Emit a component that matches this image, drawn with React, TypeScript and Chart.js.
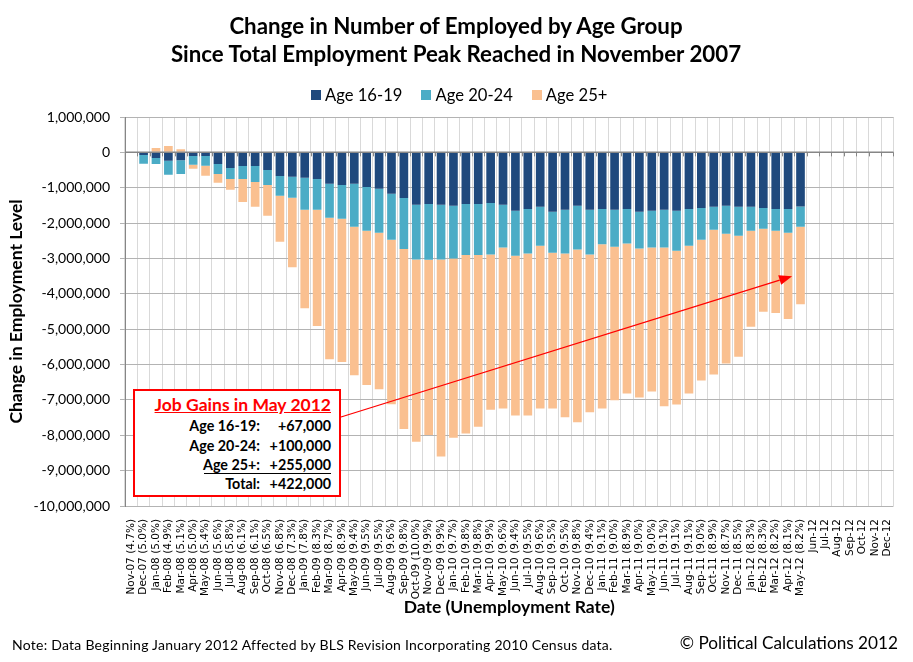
import React, { useEffect, useRef } from "react";
import { Chart, registerables } from "chart.js";

Chart.register(...registerables);

const months = [
  "Nov-07 (4.7%)", "Dec-07 (5.0%)", "Jan-08 (5.0%)", "Feb-08 (4.9%)", "Mar-08 (5.1%)", "Apr-08 (5.0%)",
  "May-08 (5.4%)", "Jun-08 (5.6%)", "Jul-08 (5.8%)", "Aug-08 (6.1%)", "Sep-08 (6.1%)", "Oct-08 (6.5%)",
  "Nov-08 (6.8%)", "Dec-08 (7.3%)", "Jan-09 (7.8%)", "Feb-09 (8.3%)", "Mar-09 (8.7%)", "Apr-09 (8.9%)",
  "May-09 (9.4%)", "Jun-09 (9.5%)", "Jul-09 (9.5%)", "Aug-09 (9.6%)", "Sep-09 (9.8%)", "Oct-09 (10.0%)",
  "Nov-09 (9.9%)", "Dec-09 (9.9%)", "Jan-10 (9.7%)", "Feb-10 (9.8%)", "Mar-10 (9.8%)", "Apr-10 (9.9%)",
  "May-10 (9.6%)", "Jun-10 (9.4%)", "Jul-10 (9.5%)", "Aug-10 (9.6%)", "Sep-10 (9.5%)", "Oct-10 (9.5%)",
  "Nov-10 (9.8%)", "Dec-10 (9.4%)", "Jan-11 (9.1%)", "Feb-11 (9.0%)", "Mar-11 (8.9%)", "Apr-11 (9.0%)",
  "May-11 (9.0%)", "Jun-11 (9.1%)", "Jul-11 (9.1%)", "Aug-11 (9.1%)", "Sep-11 (9.0%)", "Oct-11 (8.9%)",
  "Nov-11 (8.7%)", "Dec-11 (8.5%)", "Jan-12 (8.3%)", "Feb-12 (8.3%)", "Mar-12 (8.2%)", "Apr-12 (8.1%)",
  "May-12 (8.2%)", "Jun-12", "Jul-12", "Aug-12", "Sep-12", "Oct-12", "Nov-12", "Dec-12",
];

const age1619 = [
  0, -75000, -160000, -240000, -220000, -100000,
  -100000, -330000, -440000, -385000, -385000, -500000,
  -670000, -690000, -720000, -750000, -890000, -920000,
  -890000, -980000, -1030000, -1170000, -1290000, -1480000,
  -1460000, -1480000, -1510000, -1460000, -1460000, -1430000,
  -1480000, -1650000, -1600000, -1540000, -1680000, -1620000,
  -1510000, -1620000, -1600000, -1620000, -1600000, -1680000,
  -1650000, -1620000, -1650000, -1600000, -1570000, -1540000,
  -1510000, -1540000, -1540000, -1570000, -1600000, -1600000,
  -1533000, null, null, null, null, null, null, null,
];

const age2024 = [
  0, -250000, -170000, -390000, -390000, -250000,
  -280000, -280000, -310000, -370000, -450000, -420000,
  -560000, -590000, -900000, -870000, -960000, -960000,
  -1210000, -1240000, -1240000, -1300000, -1440000, -1550000,
  -1580000, -1550000, -1490000, -1440000, -1440000, -1460000,
  -1210000, -1270000, -1260000, -1100000, -1160000, -1240000,
  -1240000, -1270000, -1000000, -1050000, -980000, -1040000,
  -1040000, -1070000, -1130000, -1040000, -900000, -650000,
  -790000, -820000, -680000, -590000, -620000, -670000,
  -570000, null, null, null, null, null, null, null,
];

const age25plus = [
  0, 0, 120000, 180000, 90000, -110000,
  -280000, -250000, -310000, -650000, -700000, -870000,
  -1300000, -1970000, -2790000, -3290000, -4000000, -4050000,
  -4200000, -4360000, -4430000, -4650000, -5090000, -5150000,
  -4950000, -5570000, -5070000, -5050000, -4860000, -4390000,
  -4550000, -4520000, -4580000, -4600000, -4400000, -4630000,
  -4880000, -4460000, -4640000, -4340000, -4240000, -4210000,
  -4070000, -4490000, -4350000, -4180000, -3980000, -4090000,
  -3670000, -3420000, -2710000, -2350000, -2320000, -2440000,
  -2190000, null, null, null, null, null, null, null,
];

const seriesNames = ["Age 16-19", "Age 20-24", "Age 25+"];
const seriesColors = ["#1F497D", "#4BACC6", "#FAC090"];

const yMin = -10000000;
const yMax = 1000000;
const yStep = 1000000;

const gainRows = [
  ["Age 16-19:", "+67,000"],
  ["Age 20-24:", "+100,000"],
  ["Age 25+:", "+255,000"],
  ["Total:", "+422,000"],
];

const arrowTargetIndex = 53;
const arrowTargetValue = -3500000;

const FONT = "Lato, 'Open Sans', sans-serif";

export default function App() {
  const ref = useRef<HTMLCanvasElement>(null);

  useEffect(() => {
    const canvas = ref.current;
    if (!canvas) return;

    const zeroAxis = {
      id: "zeroAxis",
      afterDatasetsDraw(chart: any) {
        const { ctx, chartArea, scales } = chart;
        const x = scales.x;
        const y = scales.y;
        const y0 = y.getPixelForValue(0);
        const half = (x.getPixelForValue(1) - x.getPixelForValue(0)) / 2;
        ctx.save();
        ctx.strokeStyle = "#868686";
        ctx.lineWidth = 1.5;
        ctx.beginPath();
        ctx.moveTo(chartArea.left, y0);
        ctx.lineTo(chartArea.right, y0);
        ctx.stroke();
        ctx.lineWidth = 1;
        ctx.beginPath();
        for (let i = 0; i <= months.length; i++) {
          const px = Math.round(x.getPixelForValue(i) - half) + 0.5;
          ctx.moveTo(px, y0);
          ctx.lineTo(px, y0 + 4);
        }
        ctx.stroke();
        ctx.restore();
      },
      afterDraw(chart: any) {
        const { ctx, scales } = chart;
        const x = scales.x;
        const y = scales.y;
        const tx = x.getPixelForValue(arrowTargetIndex) + 4;
        const ty = y.getPixelForValue(arrowTargetValue);
        const sx = 341;
        const sy = 417;
        const ang = Math.atan2(ty - sy, tx - sx);
        const headLen = 13;
        const headW = 5;
        const bx = tx - headLen * Math.cos(ang);
        const by = ty - headLen * Math.sin(ang);
        ctx.save();
        ctx.strokeStyle = "#FF0000";
        ctx.fillStyle = "#FF0000";
        ctx.lineWidth = 1.3;
        ctx.beginPath();
        ctx.moveTo(sx, sy);
        ctx.lineTo(bx, by);
        ctx.stroke();
        ctx.beginPath();
        ctx.moveTo(tx, ty);
        ctx.lineTo(bx + headW * Math.sin(ang), by - headW * Math.cos(ang));
        ctx.lineTo(bx - headW * Math.sin(ang), by + headW * Math.cos(ang));
        ctx.closePath();
        ctx.fill();
        ctx.restore();
      },
    };

    const chart = new Chart(canvas, {
      type: "bar",
      data: {
        labels: months,
        datasets: [
          { label: seriesNames[0], data: age1619, backgroundColor: seriesColors[0] },
          { label: seriesNames[1], data: age2024, backgroundColor: seriesColors[1] },
          { label: seriesNames[2], data: age25plus, backgroundColor: seriesColors[2] },
        ],
      },
      options: {
        animation: false,
        responsive: true,
        maintainAspectRatio: false,
        datasets: { bar: { barPercentage: 0.7, categoryPercentage: 1 } },
        layout: { autoPadding: false, padding: { top: 117, right: 17, bottom: 0, left: 0 } },
        plugins: {
          legend: { display: false },
          title: { display: false },
          tooltip: { enabled: false },
        },
        scales: {
          x: {
            stacked: true,
            afterFit: (s: any) => {
              s.height = 156;
            },
            grid: { offset: true, color: "#d9d9d9", drawTicks: false },
            border: { display: false },
            ticks: {
              autoSkip: false,
              maxRotation: 90,
              minRotation: 90,
              padding: 13,
              color: "#000",
              font: { family: "'DejaVu Sans', sans-serif", size: 10.5 },
            },
            title: {
              display: true,
              text: "Date (Unemployment Rate)",
              color: "#000",
              font: { family: FONT, size: 17.5, weight: "bold" },
              padding: { top: 0, bottom: 44.5 },
            },
          },
          y: {
            stacked: true,
            min: yMin,
            max: yMax,
            afterFit: (s: any) => {
              s.width = 125;
            },
            ticks: {
              stepSize: yStep,
              callback: (v: any) => Number(v).toLocaleString("en-US"),
              color: "#000",
              font: { family: FONT, size: 14 },
              padding: 10,
            },
            grid: { color: "#b3b3b3", tickLength: 5 },
            border: { color: "#868686" },
            title: {
              display: true,
              text: "Change in Employment Level",
              color: "#000",
              font: { family: FONT, size: 17.5, weight: "bold" },
              padding: { top: 5.5, bottom: 0 },
            },
          },
        },
      },
      plugins: [zeroAxis],
    });

    return () => chart.destroy();
  }, []);

  const abs = (style: React.CSSProperties): React.CSSProperties => ({
    position: "absolute",
    whiteSpace: "nowrap",
    fontFamily: FONT,
    color: "#000",
    ...style,
  });

  const rowBaselines = [416, 436, 455, 474];

  return (
    <div
      style={{
        position: "fixed",
        left: 0,
        top: 0,
        width: 913,
        height: 662,
        background: "#fff",
        overflow: "hidden",
      }}
    >
      <canvas ref={ref} style={{ position: "absolute", left: 0, top: 0, width: 913, height: 662 }} />

      <div
        style={abs({
          left: 0,
          top: 12,
          width: 912,
          textAlign: "center",
          fontWeight: "bold",
          fontSize: 22.3,
          lineHeight: "28px",
        })}
      >
        <div>Change in Number of Employed by Age Group</div>
        <div>Since Total Employment Peak Reached in November 2007</div>
      </div>

      <div
        style={abs({
          left: 311,
          top: 85,
          height: 20,
          display: "flex",
          alignItems: "center",
          fontSize: 16.6,
        })}
      >
        {seriesNames.map((n, i) => (
          <div key={n} style={{ display: "flex", alignItems: "center", marginRight: 19 }}>
            <span style={{ width: 10, height: 10, background: seriesColors[i], marginRight: 4, display: "inline-block" }} />
            <span>{n}</span>
          </div>
        ))}
      </div>

      <div
        style={{
          position: "absolute",
          left: 133,
          top: 389,
          width: 208,
          height: 108,
          boxSizing: "border-box",
          border: "2px solid #FF0000",
          background: "#fff",
        }}
      />
      <div
        style={abs({
          right: 913 - 331,
          top: 395,
          fontSize: 17.5,
          lineHeight: "20px",
          fontWeight: "bold",
          color: "#FF0000",
          textDecoration: "underline",
        })}
      >
        Job Gains in May 2012
      </div>
      {gainRows.map((r, i) => (
        <React.Fragment key={r[0]}>
          <div
            style={abs({
              right: 913 - 260,
              top: rowBaselines[i],
              fontSize: 14.3,
              lineHeight: "20px",
              fontWeight: "bold",
            })}
          >
            {r[0]}
          </div>
          <div
            style={abs({
              right: 913 - 331,
              top: rowBaselines[i],
              fontSize: 14.3,
              lineHeight: "20px",
              fontWeight: "bold",
            })}
          >
            {r[1]}
          </div>
        </React.Fragment>
      ))}
      <div style={{ position: "absolute", left: 204, top: 473, width: 127, height: 1, background: "#000" }} />

      <div style={abs({ left: 12, top: 636, fontSize: 14, lineHeight: "18px", letterSpacing: "0.25px" })}>
        Note: Data Beginning January 2012 Affected by BLS Revision Incorporating 2010 Census data.
      </div>
      <div style={abs({ right: 913 - 898, top: 633, fontSize: 17.2, lineHeight: "20px" })}>
        © Political Calculations 2012
      </div>
    </div>
  );
}
